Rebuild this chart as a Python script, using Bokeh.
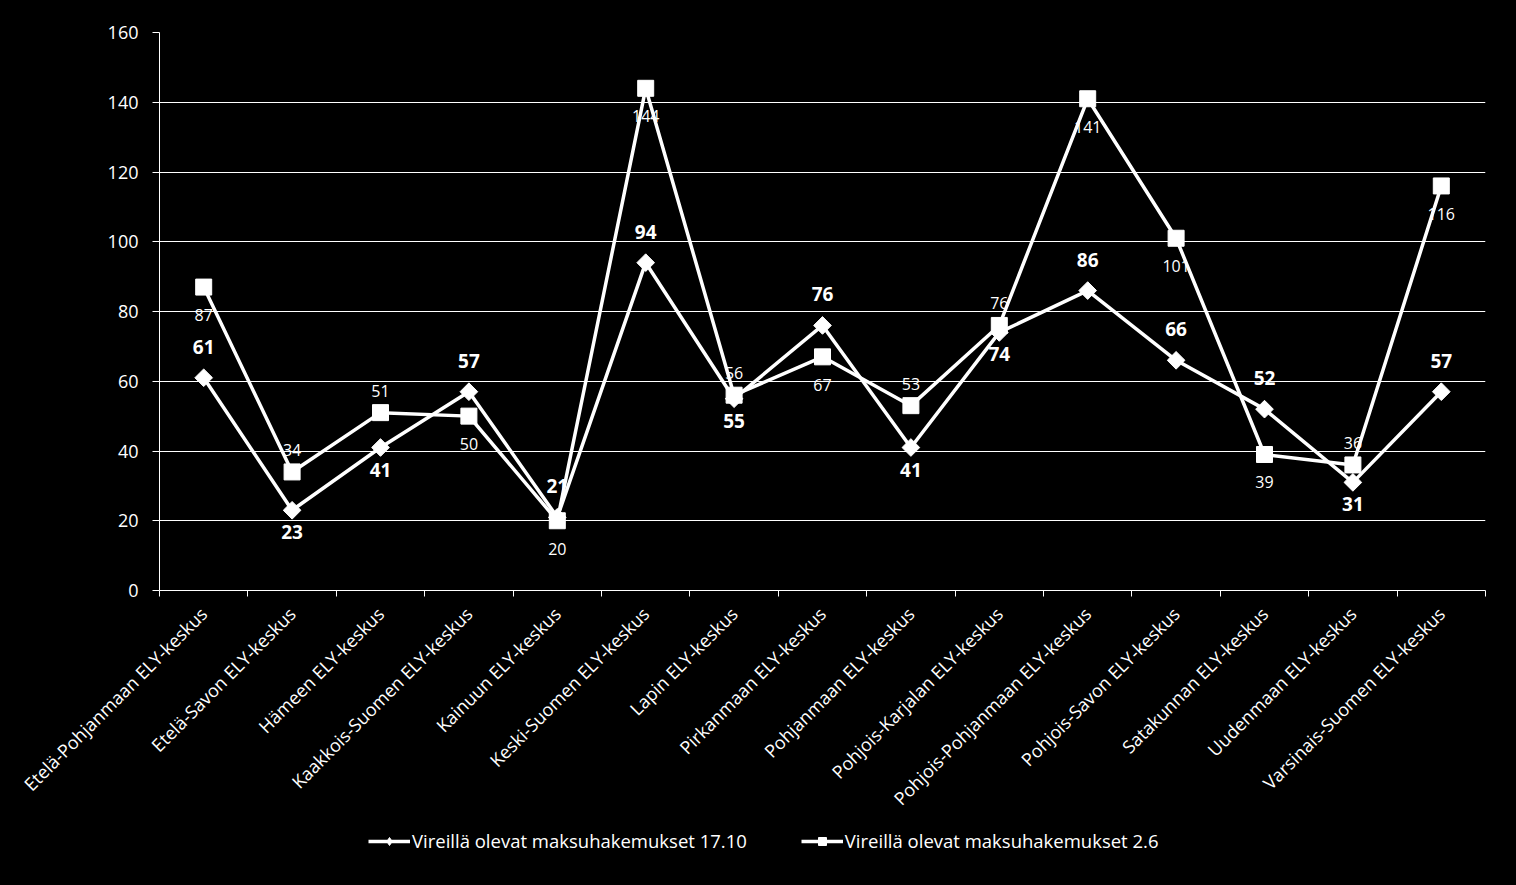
import math
from bokeh.plotting import figure
from bokeh.layouts import column
from bokeh.models import (Range1d, LinearAxis, FixedTicker, Legend, LegendItem,
                          ColumnDataSource, Grid)
from bokeh.core.properties import value
from bokeh.embed import file_html
from bokeh.resources import INLINE

categories = ["Etelä-Pohjanmaan ELY-keskus", "Etelä-Savon ELY-keskus", "Hämeen ELY-keskus",
              "Kaakkois-Suomen ELY-keskus", "Kainuun ELY-keskus", "Keski-Suomen ELY-keskus",
              "Lapin ELY-keskus", "Pirkanmaan ELY-keskus", "Pohjanmaan ELY-keskus",
              "Pohjois-Karjalan ELY-keskus", "Pohjois-Pohjanmaan ELY-keskus",
              "Pohjois-Savon ELY-keskus", "Satakunnan ELY-keskus", "Uudenmaan ELY-keskus",
              "Varsinais-Suomen ELY-keskus"]
series1_name = "Vireillä olevat maksuhakemukset 17.10"
series1 = [61, 23, 41, 57, 21, 94, 55, 76, 41, 74, 86, 66, 52, 31, 57]
series2_name = "Vireillä olevat maksuhakemukset 2.6"
series2 = [87, 34, 51, 50, 20, 144, 56, 67, 53, 76, 141, 101, 39, 36, 116]
y_ticks = [0, 20, 40, 60, 80, 100, 120, 140, 160]

# label placement (above / below the point)
s1_pos = ["a", "b", "b", "a", "a", "a", "b", "a", "b", "b", "a", "a", "a", "b", "a"]
s2_pos = ["b", "a", "a", "b", "b", "b", "a", "b", "a", "a", "b", "b", "b", "a", "b"]

FONT = "Open Sans"
n = len(categories)
xs = [i + 0.5 for i in range(n)]

p = figure(width=1516, height=830, output_backend="svg", toolbar_location=None,
           x_range=Range1d(0, n), y_range=Range1d(0, 160),
           x_axis_type=None, y_axis_type=None,
           min_border_left=159, min_border_right=31, min_border_top=32, min_border_bottom=240)
p.background_fill_color = "black"
p.border_fill_color = "black"
p.outline_line_color = None

# y axis
yax = LinearAxis(ticker=FixedTicker(ticks=y_ticks))
yax.axis_line_color = "white"
yax.major_tick_line_color = "white"
yax.major_tick_out = 7
yax.major_tick_in = 0
yax.minor_tick_line_color = None
yax.major_label_text_color = "white"
yax.major_label_text_font = FONT
yax.major_label_text_font_size = "18px"
yax.major_label_standoff = 14
p.add_layout(yax, "left")

# x axis: labels at category centres, ticks at category boundaries (minor)
xax = LinearAxis(ticker=FixedTicker(ticks=xs, minor_ticks=list(range(n + 1))),
                 major_label_overrides={x: c for x, c in zip(xs, categories)})
xax.axis_line_color = "white"
xax.major_tick_line_color = None
xax.minor_tick_line_color = "white"
xax.minor_tick_out = 6
xax.minor_tick_in = 0
xax.major_tick_out = 0
xax.major_tick_in = 0
xax.major_label_orientation = math.pi / 4
xax.major_label_text_color = "white"
xax.major_label_text_font = FONT
xax.major_label_text_font_size = "18px"
xax.major_label_standoff = 14
p.add_layout(xax, "below")

g = Grid(dimension=1, ticker=FixedTicker(ticks=y_ticks), grid_line_color="white", grid_line_width=1)
p.add_layout(g)

# series
LW = 3.5
p.line(xs, series1, line_color="white", line_width=LW)
p.scatter(xs, series1, marker="square", angle=math.pi / 4, size=12.5,
          fill_color="white", line_color="white")
p.line(xs, series2, line_color="white", line_width=LW)
p.scatter(xs, series2, marker="square", size=16, fill_color="white", line_color="white")

# data labels
src1 = ColumnDataSource(dict(x=xs, y=series1, t=[str(v) for v in series1],
                             off=[-31 if s == "a" else 22 for s in s1_pos]))
p.text(x="x", y="y", text="t", y_offset="off", source=src1, text_align="center",
       text_baseline="middle", text_color="white", text_font=value(FONT),
       text_font_size="19px", text_font_style="bold")
src2 = ColumnDataSource(dict(x=xs, y=series2, t=[str(v) for v in series2],
                             off=[-22 if s == "a" else 28 for s in s2_pos]))
p.text(x="x", y="y", text="t", y_offset="off", source=src2, text_align="center",
       text_baseline="middle", text_color="white", text_font=value(FONT),
       text_font_size="16px")

# legend strip (its glyphs use the same series, outside the visible y-range)
q = figure(width=1516, height=55, output_backend="svg", toolbar_location=None,
           x_range=Range1d(0, n), y_range=Range1d(-1000, -999), x_axis_type=None, y_axis_type=None,
           min_border_left=159, min_border_right=31, min_border_top=0, min_border_bottom=0)
q.background_fill_color = "black"
q.border_fill_color = "black"
q.outline_line_color = None
q.xgrid.visible = False
q.ygrid.visible = False
ql1 = q.line(xs, series1, line_color="white", line_width=LW)
qm1 = q.scatter(xs, series1, marker="diamond", size=14,
                fill_color="white", line_color="white")
ql2 = q.line(xs, series2, line_color="white", line_width=LW)
qm2 = q.scatter(xs, series2, marker="square", size=14, fill_color="white", line_color="white")

legend = Legend(items=[LegendItem(label=series1_name, renderers=[ql1, qm1]),
                       LegendItem(label=series2_name, renderers=[ql2, qm2])],
                orientation="horizontal", location=(209, 32))
legend.background_fill_alpha = 0
legend.border_line_alpha = 0
legend.padding = 0
legend.margin = 0
legend.label_text_color = "white"
legend.label_text_font = FONT
legend.label_text_font_size = "18.5px"
legend.glyph_width = 42
legend.glyph_height = 20
legend.label_standoff = 2
legend.spacing = 54
q.add_layout(legend, "center")

layout = column(p, q, spacing=0, styles={"background-color": "black"})
open("out.html", "w").write(file_html(layout, INLINE))
